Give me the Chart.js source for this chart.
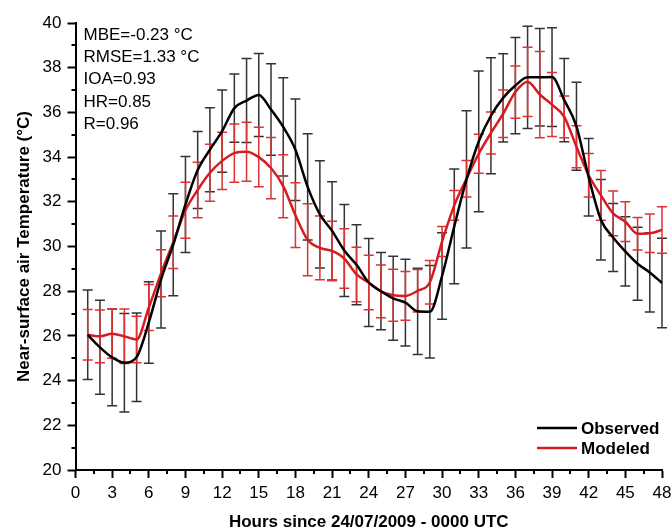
<!DOCTYPE html>
<html>
<head>
<meta charset="utf-8">
<script src="https://cdn.jsdelivr.net/npm/chart.js@4.4.1/dist/chart.umd.min.js"></script>
<style>
  html, body { margin: 0; padding: 0; background: #fff; }
  #wrap { width: 672px; height: 530px; }
</style>
</head>
<body>
<div id="wrap"><canvas id="tempChart"></canvas></div>
<script>
// hours since 24/07/2009 00 UTC
const hours = [1,2,3,4,5,6,7,8,9,10,11,12,13,14,15,16,17,18,19,20,21,22,23,24,
               25,26,27,28,29,30,31,32,33,34,35,36,37,38,39,40,41,42,43,44,45,46,47,48];

const observed = [26.05,25.49,25.04,24.8,25.05,26.6,28.52,30.08,31.88,33.42,34.33,35.16,
                  36.19,36.53,36.78,36.13,35.35,34.33,32.67,31.44,30.7,29.82,29.18,28.39,
                  28.0,27.68,27.49,27.1,27.08,28.68,30.9,33.0,34.7,35.85,36.65,37.2,
                  37.57,37.57,37.58,36.55,35.38,33.1,31.2,30.4,29.78,29.23,28.84,28.37];
const observedErr = [2.0,2.1,2.16,2.2,1.98,1.82,2.17,2.28,2.15,1.72,1.88,1.84,
                     1.53,1.88,1.86,2.05,2.2,2.27,2.38,2.4,2.2,2.06,1.79,1.97,
                     1.73,1.88,1.94,1.93,2.07,1.93,2.57,3.07,3.15,2.6,1.97,2.15,
                     2.29,2.18,2.21,1.86,1.97,1.73,1.8,1.52,1.55,1.63,1.77,2.0];

const modeled = [26.05,25.98,26.1,25.98,25.84,27.27,28.8,30.19,31.62,32.53,33.3,33.83,
                 34.18,34.24,34.0,33.51,32.7,31.4,30.3,29.94,29.8,29.46,28.75,28.39,
                 27.99,27.82,27.79,28.02,28.4,30.22,31.84,33.03,34.15,35.08,35.94,36.91,
                 37.37,36.8,36.35,35.8,34.46,33.19,32.29,31.48,31.11,30.57,30.59,30.74];
const modeledErr = [1.13,1.18,1.1,1.22,1.04,1.03,1.05,1.17,1.25,1.24,1.27,1.28,
                    1.3,1.32,1.33,1.37,1.41,1.45,1.61,1.43,1.33,1.33,1.22,1.22,
                    1.18,1.16,1.09,0.95,0.97,0.67,0.67,0.82,0.87,0.94,1.06,1.17,
                    1.55,1.93,1.43,0.93,0.94,0.97,1.11,1.0,0.89,0.73,0.86,1.04];

const statsLines = ['MBE=-0.23 \u00B0C', 'RMSE=1.33 \u00B0C', 'IOA=0.93', 'HR=0.85', 'R=0.96'];

const FONT = '"Liberation Sans", Arial, Helvetica, sans-serif';
const RED = 'rgb(212, 28, 34)';

// vertical error bars with caps, drawn under the lines
const errorBars = {
    id: 'errorBars',
    beforeDatasetsDraw(chart) {
        const { ctx, scales: { x, y } } = chart;
        ctx.save();
        chart.data.datasets.forEach(ds => {
            ctx.strokeStyle = ds.barColor;
            ctx.lineWidth = 1.5;
            ds.data.forEach((p, i) => {
                const e = ds.errors[i];
                const px = x.getPixelForValue(p.x);
                const top = y.getPixelForValue(p.y + e);
                const bot = y.getPixelForValue(p.y - e);
                ctx.beginPath();
                ctx.moveTo(px, top); ctx.lineTo(px, bot);
                ctx.moveTo(px - 5, top); ctx.lineTo(px + 5, top);
                ctx.moveTo(px - 5, bot); ctx.lineTo(px + 5, bot);
                ctx.stroke();
            });
        });
        ctx.restore();
    }
};

// minor ticks, stats text and the legend in the lower right corner
const extras = {
    id: 'extras',
    afterDraw(chart) {
        const { ctx, chartArea: area, scales: { x, y } } = chart;
        ctx.save();
        ctx.strokeStyle = '#000';
        ctx.lineWidth = 2;
        ctx.beginPath();
        for (let v = 21; v < 40; v += 2) {
            const py = Math.round(y.getPixelForValue(v));
            ctx.moveTo(area.left - 4, py); ctx.lineTo(area.left, py);
        }
        for (let v = 1.5; v < 48; v += 3) {
            const px = Math.round(x.getPixelForValue(v));
            ctx.moveTo(px, area.bottom); ctx.lineTo(px, area.bottom + 4);
        }
        ctx.stroke();

        ctx.fillStyle = '#000';
        ctx.font = '17px ' + FONT;
        ctx.textBaseline = 'middle';
        ctx.textAlign = 'left';
        statsLines.forEach((t, i) => ctx.fillText(t, area.left + 8, area.top + 12 + i * 22.3));

        ctx.font = 'bold 17px ' + FONT;
        chart.data.datasets.forEach((ds, i) => {
            const ly = area.bottom - 42 + i * 20;
            ctx.strokeStyle = ds.borderColor;
            ctx.lineWidth = 2.5;
            ctx.beginPath();
            ctx.moveTo(area.right - 125, ly); ctx.lineTo(area.right - 85, ly);
            ctx.stroke();
            ctx.fillText(ds.label, area.right - 81, ly + 1);
        });
        ctx.restore();
    }
};

const pts = vals => vals.map((v, i) => ({ x: hours[i], y: v }));

new Chart(document.getElementById('tempChart'), {
    type: 'line',
    data: {
        datasets: [{
            label: 'Observed',
            data: pts(observed),
            errors: observedErr,
            barColor: '#333',
            borderColor: '#000',
            borderWidth: 2.5,
            pointRadius: 0,
            cubicInterpolationMode: 'monotone'
        }, {
            label: 'Modeled',
            data: pts(modeled),
            errors: modeledErr,
            barColor: 'rgb(222, 50, 50)',
            borderColor: RED,
            borderWidth: 2.5,
            pointRadius: 0,
            cubicInterpolationMode: 'monotone'
        }]
    },
    options: {
        responsive: true,
        maintainAspectRatio: false,
        animation: false,
        layout: { padding: { left: 10, top: 23, right: 10, bottom: 0 } },
        plugins: { legend: { display: false }, tooltip: { enabled: false } },
        scales: {
            x: {
                type: 'linear', min: 0, max: 48,
                border: { color: '#000', width: 2 },
                grid: { drawOnChartArea: false, tickLength: 8, tickColor: '#000', tickWidth: 2 },
                ticks: { stepSize: 3, color: '#000', padding: 5, maxRotation: 0, font: { family: FONT, size: 17 } },
                title: { display: true, text: 'Hours since 24/07/2009 - 0000 UTC', color: '#000',
                         padding: { top: 4, bottom: -3 },
                         font: { family: FONT, size: 17, weight: 'bold' } },
                afterFit(scale) {
                    scale.height = 60;
                    scale.paddingLeft = 0;
                    scale.paddingRight = 0;
                }
            },
            y: {
                min: 20, max: 40,
                border: { color: '#000', width: 2 },
                grid: { drawOnChartArea: false, tickLength: 8, tickColor: '#000', tickWidth: 2 },
                ticks: { stepSize: 2, color: '#000', padding: 6, font: { family: FONT, size: 17 } },
                title: { display: true, text: 'Near-surface air Temperature (\u00B0C)', color: '#000',
                         font: { family: FONT, size: 17, weight: 'bold' } },
                afterFit(scale) { scale.width = 65.5; }
            }
        }
    },
    plugins: [errorBars, extras]
});
</script>
</body>
</html>
